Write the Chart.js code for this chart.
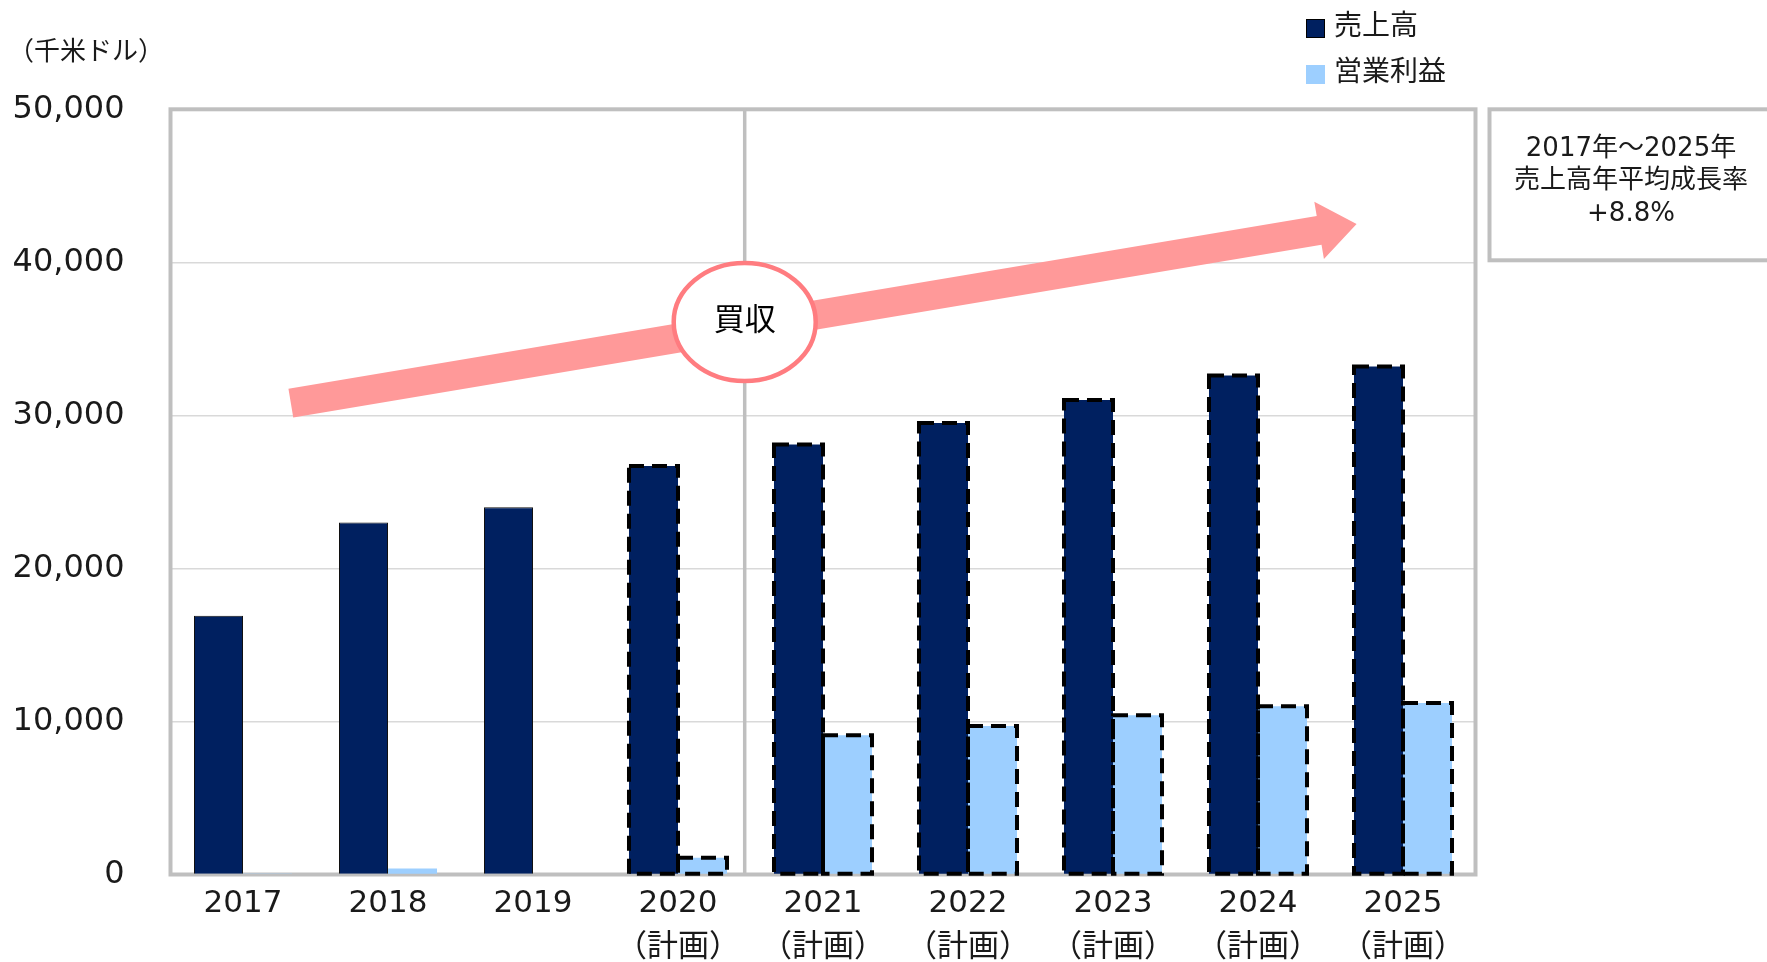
<!DOCTYPE html>
<html lang="ja">
<head>
<meta charset="utf-8">
<script src="https://cdn.jsdelivr.net/npm/chart.js@4.4.1/dist/chart.umd.min.js"></script>
<style>
  html, body { margin: 0; padding: 0; background: #ffffff; }
  #wrap { width: 1767px; height: 962px; position: relative; }
</style>
</head>
<body>
<div id="wrap"><canvas id="c" width="1767" height="962"></canvas></div>
<script>
// ---- data ----
const years = ['2017', '2018', '2019', '2020', '2021', '2022', '2023', '2024', '2025'];
const planned = [false, false, false, true, true, true, true, true, true];
const planSuffix = '（計画）';
const sales = [16900, 23000, 24000, 26700, 28100, 29500, 31000, 32600, 33200];
const operatingProfit = [60, 400, -100, 1100, 9100, 9700, 10400, 11000, 11200];
const seriesNames = ['売上高', '営業利益'];
const yTicks = [0, 10000, 20000, 30000, 40000, 50000];
const unitLabel = '（千米ドル）';
const noteLines = ['2017年～2025年', '売上高年平均成長率', '+8.8%'];
const acquisitionLabel = '買収';
// annotation anchors in data space (category index, value)
const acquisitionAt = { x: 3.46, y: 36100 };
const growthArrow = { from: { x: 0.33, y: 30800 }, to: { x: 7.68, y: 42500 } };

const labels = years.map((y, i) => planned[i] ? [y, planSuffix] : [y]);

const FONT = "'DejaVu Sans', 'Noto Sans CJK JP', sans-serif";
const NAVY = '#002060';
const LIGHT = '#9dcfff';
const FRAME = '#bfbfbf';

const decor = {
  id: 'decor',
  beforeDatasetsDraw(chart) {
    const { ctx, chartArea: a, scales: { x } } = chart;
    ctx.save();
    ctx.strokeStyle = FRAME;
    ctx.lineWidth = 4;
    ctx.strokeRect(a.left, a.top, a.right - a.left, a.bottom - a.top);
    const sx = x.getPixelForValue(3) + (acquisitionAt.x - 3) * (x.getPixelForValue(4) - x.getPixelForValue(3));
    ctx.lineWidth = 3.5;
    ctx.beginPath();
    ctx.moveTo(sx, a.top);
    ctx.lineTo(sx, a.bottom);
    ctx.stroke();
    ctx.restore();
  },
  afterDatasetsDraw(chart) {
    const { ctx, chartArea: a, scales: { x, y } } = chart;
    ctx.save();
    // dashed outlines on planned bars
    ctx.strokeStyle = '#000';
    ctx.lineWidth = 4;
    ctx.setLineDash([15, 8]);
    chart.data.datasets.forEach((ds, di) => {
      const meta = chart.getDatasetMeta(di);
      meta.data.forEach((bar, i) => {
        if (!planned[i]) return;
        const p = bar.getProps(['x', 'y', 'base', 'width'], true);
        const l = p.x - p.width / 2;
        const t = Math.min(p.y, p.base);
        const h = Math.abs(p.base - p.y);
        ctx.strokeRect(l, t, p.width, h);
      });
    });
    ctx.setLineDash([]);

    const xPix = v => x.getPixelForValue(Math.floor(v)) + (v - Math.floor(v)) * (x.getPixelForValue(1) - x.getPixelForValue(0));

    // growth arrow
    const sx0 = xPix(growthArrow.from.x), sy0 = y.getPixelForValue(growthArrow.from.y);
    const tx = xPix(growthArrow.to.x), ty = y.getPixelForValue(growthArrow.to.y);
    const dx = tx - sx0, dy = ty - sy0, len = Math.hypot(dx, dy);
    const ux = dx / len, uy = dy / len, nx = -uy, ny = ux;
    const w = 14.5, hw = 29, hl = 38;
    const bx = tx - ux * hl, by = ty - uy * hl;
    ctx.fillStyle = '#ff9999';
    ctx.beginPath();
    ctx.moveTo(sx0 + nx * w, sy0 + ny * w);
    ctx.lineTo(bx + nx * w, by + ny * w);
    ctx.lineTo(bx + nx * hw, by + ny * hw);
    ctx.lineTo(tx, ty);
    ctx.lineTo(bx - nx * hw, by - ny * hw);
    ctx.lineTo(bx - nx * w, by - ny * w);
    ctx.lineTo(sx0 - nx * w, sy0 - ny * w);
    ctx.closePath();
    ctx.fill();

    // acquisition ellipse
    const ex = xPix(acquisitionAt.x), ey = y.getPixelForValue(acquisitionAt.y);
    ctx.beginPath();
    ctx.ellipse(ex, ey, 71, 59, 0, 0, Math.PI * 2);
    ctx.fillStyle = '#ffffff';
    ctx.fill();
    ctx.lineWidth = 4.5;
    ctx.strokeStyle = '#ff7c80';
    ctx.stroke();
    ctx.fillStyle = '#000';
    ctx.font = '31px ' + FONT;
    ctx.textAlign = 'center';
    ctx.textBaseline = 'middle';
    ctx.fillText(acquisitionLabel, ex, ey);

    // unit label
    ctx.font = '26px ' + FONT;
    ctx.textAlign = 'left';
    ctx.fillStyle = '#1a1a1a';
    ctx.fillText(unitLabel, 8, 53);

    // legend
    const colors = [NAVY, LIGHT];
    ctx.font = '28px ' + FONT;
    seriesNames.forEach((name, i) => {
      const ly = 28 + i * 46;
      ctx.fillStyle = colors[i];
      ctx.fillRect(1306, ly - 9, 19, 19);
      if (i === 0) { ctx.lineWidth = 1; ctx.strokeStyle = '#000'; ctx.strokeRect(1306.5, ly - 8.5, 18, 18); }
      ctx.fillStyle = '#1a1a1a';
      ctx.fillText(name, 1334, ly);
    });

    // note box
    ctx.strokeStyle = FRAME;
    ctx.lineWidth = 4;
    ctx.strokeRect(a.right + 14, a.top, 400, 151);
    ctx.fillStyle = '#1a1a1a';
    ctx.font = '26px ' + FONT;
    ctx.textAlign = 'center';
    noteLines.forEach((t, i) => ctx.fillText(t, 1631, 149 + i * 32.5));
    ctx.restore();
  }
};

new Chart(document.getElementById('c'), {
  type: 'bar',
  data: {
    labels: labels,
    datasets: [
      {
        label: seriesNames[0],
        data: sales,
        backgroundColor: NAVY,
        borderColor: '#111111',
        borderWidth: ctx => planned[ctx.dataIndex] ? 0 : 1,
        categoryPercentage: 0.676,
        barPercentage: 1.0
      },
      {
        label: seriesNames[1],
        data: operatingProfit,
        backgroundColor: LIGHT,
        borderWidth: 0,
        categoryPercentage: 0.676,
        barPercentage: 1.0
      }
    ]
  },
  options: {
    responsive: false,
    animation: false,
    devicePixelRatio: 1,
    locale: 'en-US',
    layout: { padding: { top: 109.3, right: 291.5, left: 14, bottom: 0 } },
    plugins: { legend: { display: false }, tooltip: { enabled: false } },
    scales: {
      x: {
        grid: { display: false, drawTicks: false },
        border: { display: false },
        ticks: {
          color: '#1a1a1a',
          font: { family: FONT, size: 31, lineHeight: 1.4 },
          padding: 8,
          maxRotation: 0,
          autoSkip: false
        },
        afterFit: s => { s.height = 962 - 874.5; }
      },
      y: {
        min: yTicks[0],
        max: yTicks[yTicks.length - 1],
        afterBuildTicks: s => { s.ticks = yTicks.map(v => ({ value: v })); },
        grid: { color: '#d9d9d9', lineWidth: 1.5, drawTicks: false },
        border: { display: false },
        ticks: {
          color: '#1a1a1a',
          font: { family: FONT, size: 32 },
          padding: 46,
          callback: v => Number(v).toLocaleString('en-US')
        },
        afterFit: s => { s.width = 156.5; }
      }
    }
  },
  plugins: [decor]
});
</script>
</body>
</html>
